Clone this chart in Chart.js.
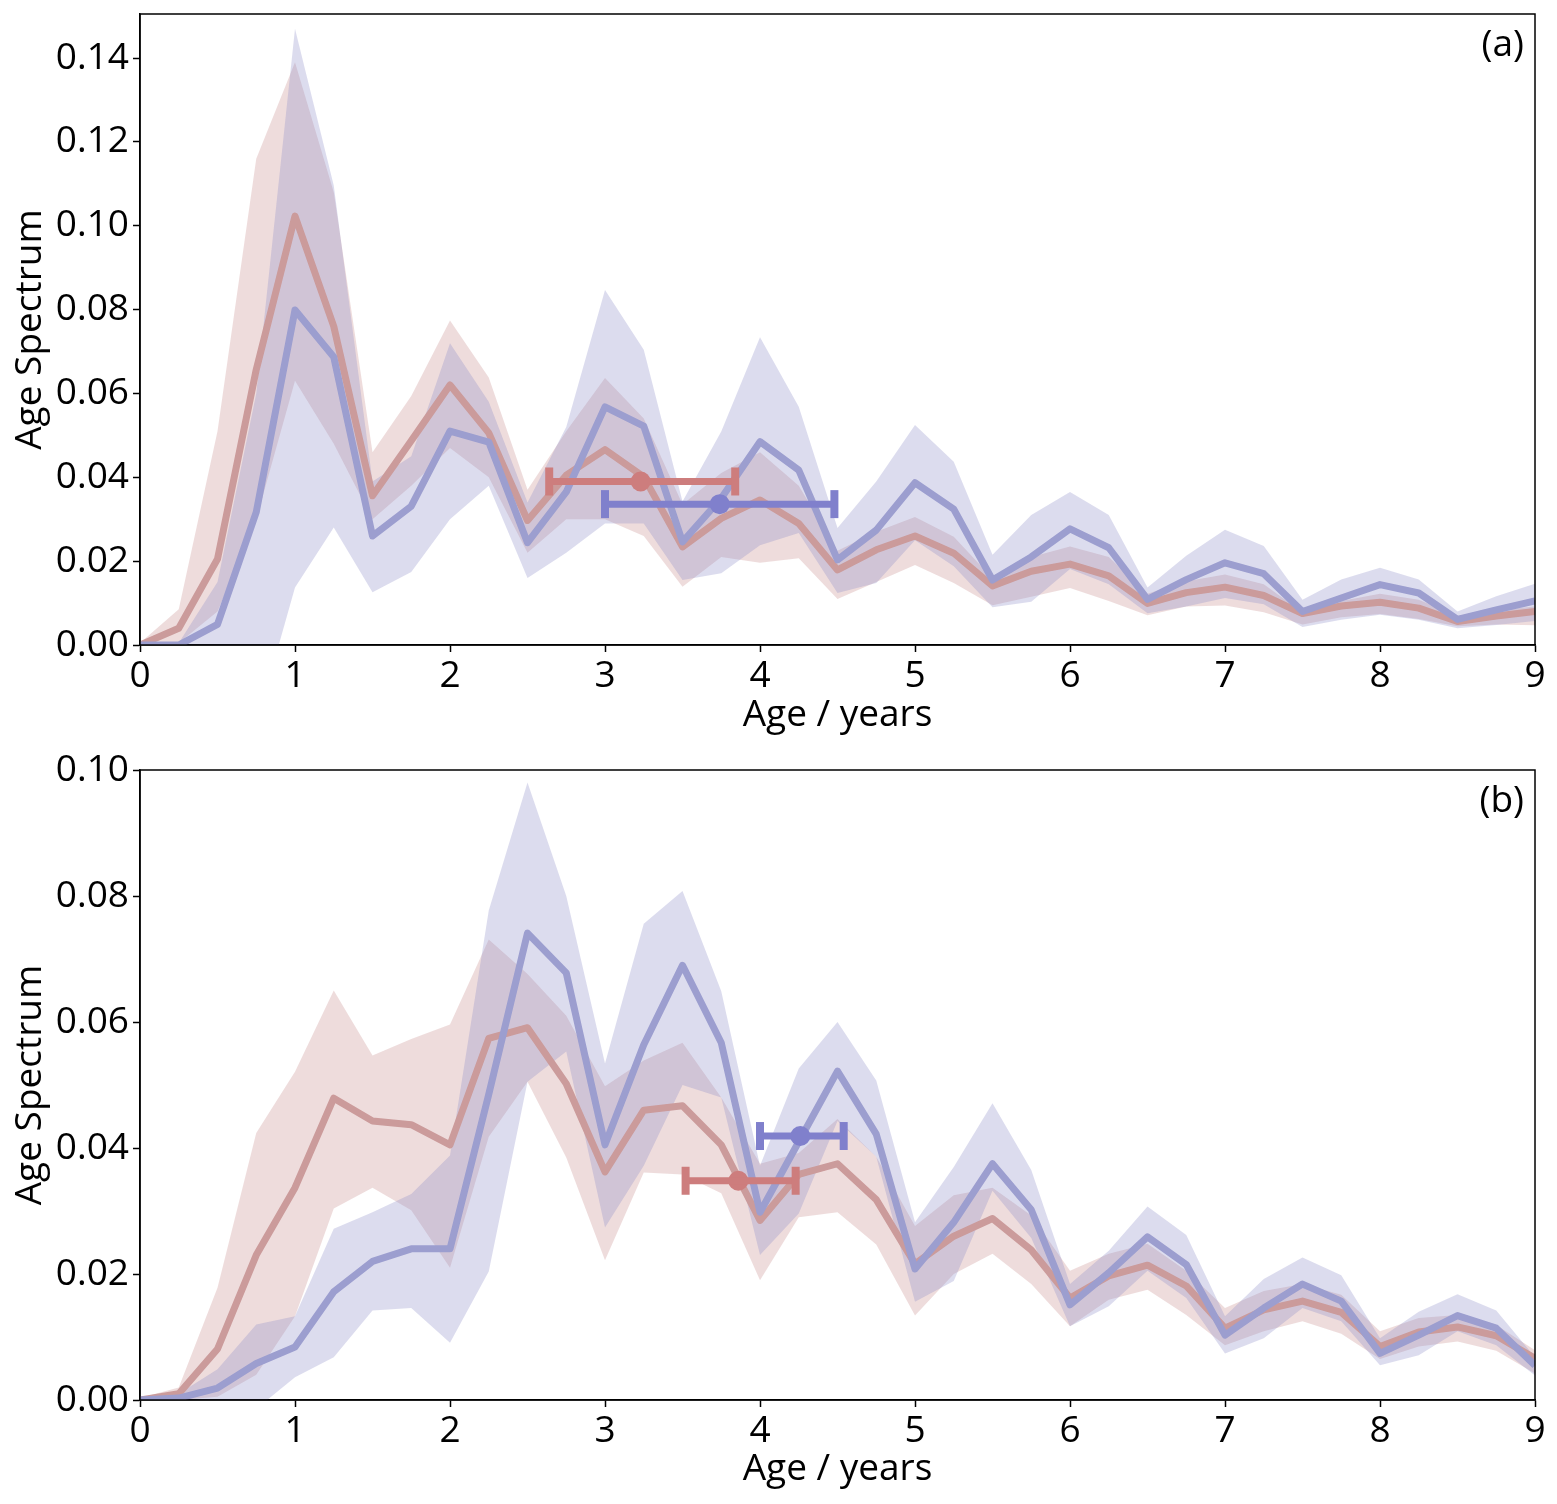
<!DOCTYPE html>
<html>
<head>
<meta charset="utf-8">
<script src="https://cdn.jsdelivr.net/npm/chart.js@4.4.1/dist/chart.umd.min.js"></script>
<style>
  html, body { margin: 0; padding: 0; background: #fff; }
  canvas { display: block; }
</style>
</head>
<body>
<canvas id="chartA" width="1557" height="740"></canvas>
<canvas id="chartB" width="1557" height="764"></canvas>
<script>
// ages on the x axis (years)
const ages = [0, 0.25, 0.5, 0.75, 1, 1.25, 1.5, 1.75, 2, 2.25, 2.5, 2.75, 3, 3.25, 3.5, 3.75,
  4, 4.25, 4.5, 4.75, 5, 5.25, 5.5, 5.75, 6, 6.25, 6.5, 6.75, 7, 7.25, 7.5, 7.75,
  8, 8.25, 8.5, 8.75, 9];
const xTicks = [0, 1, 2, 3, 4, 5, 6, 7, 8, 9];
const yTicksA = [0, 0.02, 0.04, 0.06, 0.08, 0.10, 0.12, 0.14];
const yTicksB = [0, 0.02, 0.04, 0.06, 0.08, 0.10];

// panel (a)
const redMeanA = [0, 0.004, 0.0205, 0.0657, 0.1023, 0.076, 0.0356, 0.0487, 0.062, 0.0506, 0.0297, 0.0405,
  0.0466, 0.0401, 0.0234, 0.0302, 0.0346, 0.029, 0.0179, 0.0227, 0.026, 0.0219, 0.0141, 0.0176,
  0.0193, 0.0165, 0.0099, 0.0125, 0.0138, 0.0118, 0.0075, 0.0093, 0.0102, 0.0088, 0.0056, 0.0069, 0.008];
const redUpA = [0.0005, 0.0085, 0.051, 0.116, 0.139, 0.108, 0.046, 0.0594, 0.0774, 0.0638, 0.037, 0.051,
  0.0637, 0.054, 0.0335, 0.041, 0.046, 0.038, 0.0225, 0.027, 0.0305, 0.0258, 0.0159, 0.021,
  0.0235, 0.021, 0.0122, 0.0152, 0.0168, 0.0145, 0.0078, 0.0105, 0.0122, 0.0108, 0.007, 0.0083, 0.0092];
const redLowA = [0, 0.0005, 0.008, 0.03, 0.063, 0.048, 0.03, 0.038, 0.047, 0.04, 0.022, 0.03,
  0.03, 0.026, 0.0139, 0.021, 0.0196, 0.0207, 0.011, 0.015, 0.0191, 0.0148, 0.0095, 0.0115,
  0.0136, 0.0105, 0.0071, 0.0092, 0.0094, 0.0078, 0.0049, 0.0066, 0.0074, 0.0062, 0.0045, 0.0049, 0.0047];
const blueMeanA = [0, 0, 0.0049, 0.0317, 0.0799, 0.0687, 0.026, 0.0331, 0.051, 0.0484, 0.0244, 0.0365,
  0.0568, 0.0522, 0.0246, 0.035, 0.0485, 0.0417, 0.0203, 0.0274, 0.0387, 0.0324, 0.0155, 0.021,
  0.0277, 0.0232, 0.0109, 0.0156, 0.0196, 0.017, 0.008, 0.0112, 0.0144, 0.0124, 0.0061, 0.0084, 0.0105];
const blueUpA = [0, 0.0005, 0.015, 0.06, 0.147, 0.1096, 0.039, 0.045, 0.072, 0.058, 0.034, 0.052,
  0.0847, 0.0704, 0.0342, 0.0509, 0.0734, 0.0568, 0.0279, 0.039, 0.0525, 0.0437, 0.0215, 0.031,
  0.0365, 0.031, 0.0137, 0.0213, 0.0275, 0.0236, 0.0108, 0.0156, 0.0184, 0.0156, 0.008, 0.0116, 0.0146];
const blueLowA = [0, 0, -0.01, -0.019, 0.0137, 0.028, 0.0126, 0.0174, 0.03, 0.038, 0.016, 0.022,
  0.029, 0.029, 0.0155, 0.0171, 0.0238, 0.0267, 0.0124, 0.0148, 0.025, 0.0188, 0.009, 0.0103,
  0.0181, 0.0145, 0.0076, 0.0092, 0.0112, 0.0097, 0.0043, 0.006, 0.0072, 0.006, 0.004, 0.0048, 0.0057];
// error bars: [centre age, low age, high age, level]
const redBarA = [3.23, 2.64, 3.84, 0.039];
const blueBarA = [3.74, 3.0, 4.48, 0.0336];

// panel (b)
const redMeanB = [0, 0.001, 0.0081, 0.023, 0.0337, 0.0479, 0.0443, 0.0437, 0.0405, 0.0574, 0.0591, 0.0502,
  0.0362, 0.046, 0.0467, 0.0405, 0.0285, 0.0358, 0.0375, 0.0318, 0.0216, 0.026, 0.0288, 0.0238,
  0.0162, 0.0197, 0.0214, 0.0181, 0.0114, 0.0143, 0.0157, 0.0139, 0.0085, 0.0108, 0.0116, 0.0102, 0.0066];
const redUpB = [0.0003, 0.002, 0.0178, 0.0424, 0.0521, 0.065, 0.0547, 0.0573, 0.0596, 0.0731, 0.0676, 0.061,
  0.0498, 0.0539, 0.0567, 0.048, 0.0375, 0.0392, 0.0446, 0.0386, 0.0276, 0.0325, 0.0337, 0.0293,
  0.0205, 0.0232, 0.0248, 0.0205, 0.0146, 0.0173, 0.0184, 0.0167, 0.0109, 0.013, 0.0135, 0.0119, 0.0079];
const redLowB = [0, 0, 0.0005, 0.004, 0.0133, 0.0304, 0.0337, 0.0301, 0.021, 0.0418, 0.0505, 0.0385,
  0.0222, 0.0361, 0.0358, 0.0328, 0.019, 0.029, 0.0298, 0.0247, 0.0134, 0.02, 0.0232, 0.0184,
  0.0117, 0.0159, 0.0175, 0.0135, 0.0087, 0.0109, 0.0125, 0.0105, 0.0065, 0.0085, 0.0093, 0.0078, 0.0042];
const blueMeanB = [0, 0.0003, 0.0019, 0.0058, 0.0084, 0.0172, 0.022, 0.024, 0.024, 0.0485, 0.0741, 0.0678,
  0.0405, 0.0564, 0.069, 0.0567, 0.0298, 0.041, 0.0522, 0.0422, 0.0208, 0.0282, 0.0375, 0.0302,
  0.0151, 0.0202, 0.0259, 0.0215, 0.0103, 0.0146, 0.0184, 0.0157, 0.0074, 0.0103, 0.0134, 0.0114, 0.0055];
const blueUpB = [0, 0.001, 0.0049, 0.012, 0.0133, 0.0272, 0.0298, 0.0327, 0.0388, 0.0777, 0.098, 0.08,
  0.0534, 0.0756, 0.0808, 0.0649, 0.0372, 0.0526, 0.06, 0.0507, 0.0282, 0.037, 0.0471, 0.0365,
  0.0184, 0.0237, 0.0307, 0.0262, 0.0133, 0.0192, 0.0226, 0.0198, 0.0098, 0.014, 0.0168, 0.0142, 0.0068];
const blueLowB = [0, 0, -0.001, -0.0014, 0.0036, 0.0068, 0.0142, 0.0146, 0.0091, 0.0204, 0.0505, 0.0553,
  0.0274, 0.0372, 0.05, 0.048, 0.023, 0.0296, 0.0443, 0.0386, 0.0156, 0.0189, 0.0332, 0.0257,
  0.0117, 0.0149, 0.0205, 0.0162, 0.0074, 0.0098, 0.0146, 0.0125, 0.0055, 0.0071, 0.0109, 0.0087, 0.0039];
const redBarB = [3.86, 3.52, 4.23, 0.0348];
const blueBarB = [4.26, 4.0, 4.54, 0.0419];

// colours
const RED_LINE = '#cb9b9b';
const BLUE_LINE = '#9c9ecf';
const RED_FILL = 'rgba(200, 140, 140, 0.30)';
const BLUE_FILL = 'rgba(140, 140, 200, 0.30)';
const RED_BAR = '#cd7d7d';
const BLUE_BAR = '#8080cc';
const FONT = '"Open Sans", "Noto Sans", sans-serif';

const pts = arr => arr.map((v, i) => ({x: ages[i], y: v}));

function errorBar(bar, color, order) {
    return [{
        data: [{x: bar[1], y: bar[3]}, {x: bar[2], y: bar[3]}],
        borderColor: color, borderWidth: 7,
        pointStyle: 'line', pointRotation: 90, pointRadius: 14,
        pointBorderColor: color, pointBorderWidth: 8,
        order: order
    }, {
        data: [{x: bar[0], y: bar[3]}],
        showLine: false,
        pointStyle: 'circle', pointRadius: 10,
        pointBackgroundColor: color, pointBorderWidth: 0,
        order: order
    }];
}

// frame round the plot area + panel letter
const framePlugin = {
    id: 'frame',
    afterDraw(chart, args, opts) {
        const {ctx, chartArea: a} = chart;
        ctx.save();
        ctx.strokeStyle = '#000';
        ctx.lineWidth = 1.5;
        ctx.strokeRect(a.left, a.top, a.right - a.left, a.bottom - a.top);
        ctx.fillStyle = '#000';
        ctx.font = '37px ' + FONT;
        ctx.textAlign = 'right';
        ctx.textBaseline = 'middle';
        ctx.fillText(opts.label, a.right - 11, a.top + 31);
        ctx.restore();
    }
};

function makePanel(id, d) {
    const tickFont = {family: FONT, size: 37};
    new Chart(document.getElementById(id), {
        type: 'line',
        data: {
            datasets: [
                {data: pts(d.redUp), fill: '+1', backgroundColor: RED_FILL, borderWidth: 0, pointRadius: 0, order: 9},
                {data: pts(d.redLow), fill: false, borderWidth: 0, pointRadius: 0, order: 9},
                {data: pts(d.blueUp), fill: '+1', backgroundColor: BLUE_FILL, borderWidth: 0, pointRadius: 0, order: 8},
                {data: pts(d.blueLow), fill: false, borderWidth: 0, pointRadius: 0, order: 8},
                {data: pts(d.redMean), borderColor: RED_LINE, borderWidth: 7, pointRadius: 0, order: 7},
                {data: pts(d.blueMean), borderColor: BLUE_LINE, borderWidth: 7, pointRadius: 0, order: 6},
                ...errorBar(d.redBar, RED_BAR, 2),
                ...errorBar(d.blueBar, BLUE_BAR, 1)
            ]
        },
        options: {
            responsive: false,
            animation: false,
            devicePixelRatio: 1,
            elements: {line: {tension: 0, borderJoinStyle: 'round'}},
            layout: {autoPadding: false, padding: {left: 0, right: 22, top: d.padTop, bottom: 0}},
            plugins: {
                legend: {display: false},
                tooltip: {enabled: false},
                frame: {label: d.label}
            },
            scales: {
                x: {
                    type: 'linear', min: 0, max: 9,
                    afterBuildTicks: s => { s.ticks = xTicks.map(v => ({value: v})); },
                    afterFit: s => { s.height = d.xHeight; s.paddingLeft = 0; s.paddingRight = 0; },
                    grid: {drawOnChartArea: false, drawTicks: true, tickLength: 7, tickWidth: 1.5, tickColor: '#000'},
                    border: {display: true, color: '#000', width: 1.5},
                    ticks: {color: '#000', font: tickFont, padding: 2, maxRotation: 0},
                    title: {display: true, text: 'Age / years', color: '#000', font: tickFont,
                        padding: {top: 0, bottom: d.titlePad}}
                },
                y: {
                    min: 0, max: d.yMax,
                    afterBuildTicks: s => { s.ticks = d.yTicks.map(v => ({value: v})); },
                    afterFit: s => { s.width = 140; s.paddingTop = 0; s.paddingBottom = 0; },
                    grid: {drawOnChartArea: false, drawTicks: true, tickLength: 7, tickWidth: 1.5, tickColor: '#000'},
                    border: {display: true, color: '#000', width: 1.5},
                    ticks: {color: '#000', font: tickFont, padding: 4, callback: v => v.toFixed(2)},
                    title: {display: true, text: 'Age Spectrum', color: '#000', font: tickFont,
                        padding: {top: 8, bottom: 0}}
                }
            }
        },
        plugins: [framePlugin]
    });
}

makePanel('chartA', {
    label: '(a)', yMax: 0.1505, yTicks: yTicksA, padTop: 14, xHeight: 95, titlePad: 2,
    redMean: redMeanA, redUp: redUpA, redLow: redLowA,
    blueMean: blueMeanA, blueUp: blueUpA, blueLow: blueLowA,
    redBar: redBarA, blueBar: blueBarA
});
makePanel('chartB', {
    label: '(b)', yMax: 0.10, yTicks: yTicksB, padTop: 30, xHeight: 104, titlePad: 12,
    redMean: redMeanB, redUp: redUpB, redLow: redLowB,
    blueMean: blueMeanB, blueUp: blueUpB, blueLow: blueLowB,
    redBar: redBarB, blueBar: blueBarB
});
</script>
</body>
</html>
